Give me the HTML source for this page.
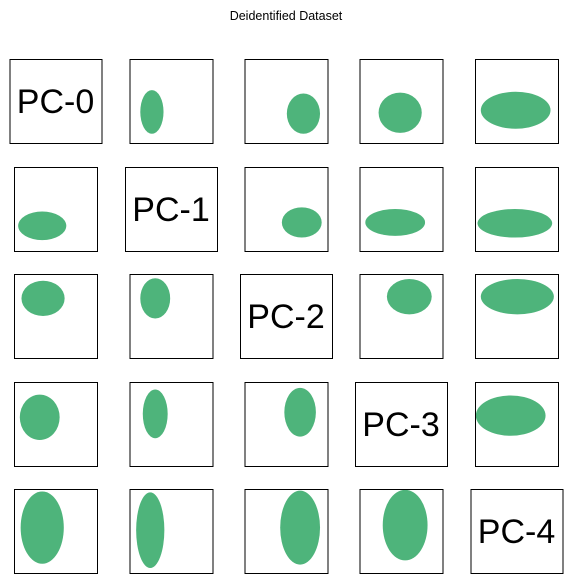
<!DOCTYPE html>
<html><head><meta charset="utf-8"><style>
html,body{margin:0;padding:0;background:#fff;}
svg{display:block;font-family:"Liberation Sans","DejaVu Sans",sans-serif;}
</style></head><body>
<svg id="chart" width="572" height="583" viewBox="0 0 572 583">
<text x="286" y="20" text-anchor="middle" font-size="12.5">Deidentified Dataset</text>
</svg>
<script>
// scatter-matrix blob summaries (fractions of the cell): [row][col]
const labels = ["PC-0","PC-1","PC-2","PC-3","PC-4"];
const blobCx = [[0,.27,.71,.49,.49],[.34,0,.69,.43,.48],[.35,.31,0,.6,.51],[.31,.31,.67,0,.43],[.34,.25,.67,.55,0]];
const blobCy = [[0,.63,.65,.64,.61],[.70,0,.66,.66,.67],[.29,.29,0,.27,.27],[.42,.38,.36,0,.40],[.46,.49,.46,.43,0]];
const blobRx = [[0,.14,.20,.26,.42],[.29,0,.24,.36,.45],[.26,.18,0,.27,.44],[.24,.15,.19,0,.42],[.26,.17,.24,.27,0]];
const blobRy = [[0,.26,.24,.24,.22],[.17,0,.18,.16,.17],[.21,.24,0,.21,.21],[.27,.29,.29,0,.24],[.43,.45,.44,.42,0]];
const blobRot = [[0,0,0,0,0],[0,0,0,0,0],[0,0,0,0,0],[0,0,0,0,0],[0,0,0,0,0]];

const svg = document.getElementById('chart');
const NS = 'http://www.w3.org/2000/svg';
const colCenters = [55.5,171,286,401,516.5];
const rowTops = [59,167,274,382,489];
const W = 83, H = 84, DW = 92;
function sx(c, f){ return colCenters[c] - W/2 + f*W; }
function sy(r, f){ return rowTops[r] + f*H; }
for (let r=0;r<5;r++){
  for (let c=0;c<5;c++){
    const diag = r===c;
    const w = diag ? DW : W;
    const g = document.createElementNS(NS,'g');
    
    
    if (diag){
      const t = document.createElementNS(NS,'text');
      t.setAttribute('x', colCenters[c]);
      t.setAttribute('y', rowTops[r]+H/2+12);
      t.setAttribute('text-anchor','middle');
      t.setAttribute('font-size','34');
      t.textContent = labels[r];
      
      
      g.appendChild(t);
    } else {
      const e = document.createElementNS(NS,'ellipse');
      const cx = sx(c, blobCx[r][c]), cy = sy(r, blobCy[r][c]);
      e.setAttribute('cx', cx);
      e.setAttribute('cy', cy);
      e.setAttribute('rx', blobRx[r][c]*W);
      e.setAttribute('ry', blobRy[r][c]*H);
      e.setAttribute('transform','rotate('+blobRot[r][c]+' '+cx+' '+cy+')');
      e.setAttribute('fill','#4eb47b');
      
      
      g.appendChild(e);
    }
    const rect = document.createElementNS(NS,'rect');
    rect.setAttribute('x', colCenters[c]-w/2+0.5);
    rect.setAttribute('y', rowTops[r]+0.5);
    rect.setAttribute('width', w);
    rect.setAttribute('height', H);
    rect.setAttribute('fill','none');
    rect.setAttribute('stroke','#000');
    rect.setAttribute('stroke-width','1');
    
    
    g.appendChild(rect);
    svg.appendChild(g);
  }
}
</script>
</body></html>
